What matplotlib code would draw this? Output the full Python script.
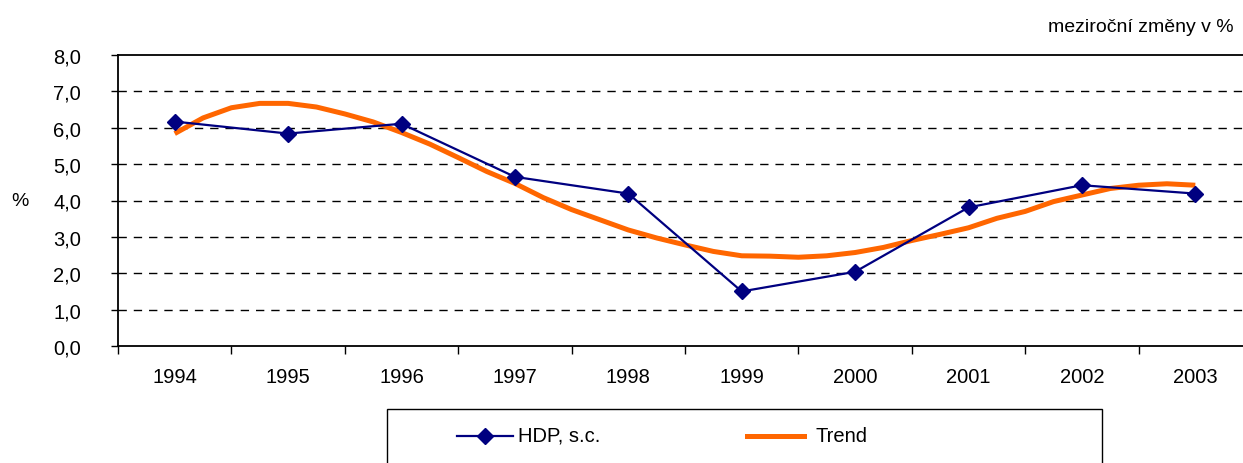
import matplotlib
matplotlib.use("Agg")
import matplotlib.pyplot as plt
from matplotlib.lines import Line2D
from matplotlib.patches import Rectangle
import numpy as np

plt.rcParams['font.family'] = ['Liberation Sans', 'DejaVu Sans']

years = ['1994', '1995', '1996', '1997', '1998', '1999', '2000', '2001', '2002', '2003']
hdp = [6.17, 5.84, 6.11, 4.65, 4.19, 1.50, 2.04, 3.81, 4.42, 4.19]
# quarterly trend, 1994Q1 .. 2003Q1
trend = [5.84, 6.27, 6.55, 6.67, 6.67, 6.57, 6.38, 6.16, 5.87, 5.55, 5.18, 4.80,
         4.47, 4.08, 3.75, 3.47, 3.19, 2.97, 2.78, 2.60, 2.48, 2.47, 2.44, 2.48,
         2.57, 2.71, 2.90, 3.07, 3.25, 3.51, 3.70, 3.97, 4.15, 4.33, 4.42, 4.46, 4.42]
yticks = [0, 1, 2, 3, 4, 5, 6, 7, 8]
ytick_labels = ['0,0', '1,0', '2,0', '3,0', '4,0', '5,0', '6,0', '7,0', '8,0']

FS = 14.5
W, H = 1243, 464
fig = plt.figure(figsize=(W / 100, H / 100), dpi=100)
ax = fig.add_axes([118 / W, 1 - 347 / H, 1134 / W, (347 - 56) / H])

x_hdp = np.arange(len(years))
x_trend = np.arange(len(trend)) / 4.0

ax.plot(x_trend, trend, color='#FF6600', lw=3.6, solid_capstyle='butt', zorder=3)
ax.plot(x_hdp, hdp, color='#000080', lw=1.6, marker='D', markersize=8.5,
        markeredgecolor='#000080', markerfacecolor='#000080', zorder=4)

ax.set_xlim(-0.5, len(years) - 0.5)
ax.set_ylim(0, 8)
ax.set_yticks(yticks)
ax.set_yticklabels(ytick_labels, fontsize=FS)
ax.set_xticks(x_hdp)
ax.set_xticklabels(years, fontsize=FS)
ax.set_xticks(np.arange(-0.5, len(years) + 0.5, 1), minor=True)
ax.tick_params(axis='x', which='major', length=0, pad=15)
ax.tick_params(axis='x', which='minor', length=6, width=1, direction='out')
ax.tick_params(axis='y', length=5, width=1, direction='out', pad=21.5)

for y in yticks[1:-1]:
    ax.axhline(y, color='black', lw=1, ls=(0, (6, 5)), zorder=1)

for s in ['left', 'bottom', 'top']:
    ax.spines[s].set_linewidth(1.3)
    ax.spines[s].set_color('black')
ax.spines['right'].set_visible(False)

fig.text(20 / W, 1 - 201 / H, '%', fontsize=14, ha='center', va='center')
fig.text(1234 / W, 1 - 28 / H, 'meziroční změny v %', fontsize=14, ha='right', va='center')

# legend box (cut off at bottom)
rect = Rectangle((387 / W, -0.1), (1102 - 387) / W, 0.1 + (1 - 410 / H),
                 transform=fig.transFigure, fill=False, edgecolor='black', lw=1, clip_on=False)
fig.add_artist(rect)
ly = 1 - 436.5 / H
fig.add_artist(Line2D([457 / W, 513 / W], [ly, ly], transform=fig.transFigure,
                      color='#000080', lw=1.6))
fig.add_artist(Line2D([485 / W], [ly], transform=fig.transFigure, marker='D',
                      markersize=8.5, color='#000080'))
fig.text(518 / W, ly, 'HDP, s.c.', fontsize=FS, ha='left', va='center')
fig.add_artist(Line2D([747 / W, 804 / W], [ly, ly], transform=fig.transFigure,
                      color='#FF6600', lw=3.6))
fig.text(815 / W, ly, 'Trend', fontsize=FS, ha='left', va='center')

fig.savefig('out.png', dpi=100)
